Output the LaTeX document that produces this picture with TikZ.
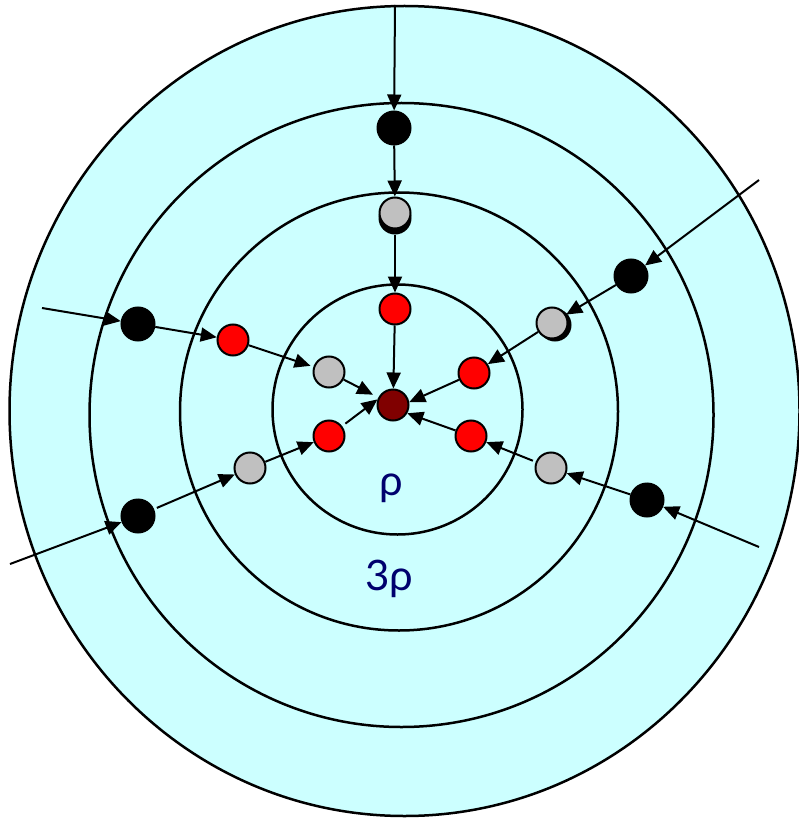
\documentclass[tikz,border=0pt]{standalone}
\usepackage{fontspec}
\setmainfont{Lato}
\usetikzlibrary{arrows.meta}
\definecolor{cyanbg}{RGB}{204,255,255}
\definecolor{grayball}{RGB}{192,192,192}
\definecolor{coreball}{RGB}{128,0,0}
\definecolor{navytext}{RGB}{0,0,110}
\tikzset{
  ball/.style={circle, draw=black, line width=2pt, minimum size=31pt, inner sep=0pt},
  blk/.style={ball, fill=black, minimum size=33pt},
  rd/.style={ball, fill=red},
  gr/.style={ball, fill=grayball},
  shd/.style={ball, fill=black, draw=black},
  core/.style={ball, fill=coreball},
  flow/.style={line width=2pt, -{Triangle[length=16pt,width=14pt]}},
  ringline/.style={line width=2.5pt},
  lab/.style={text=navytext, font=\fontsize{42}{46}\selectfont, anchor=base, inner sep=0pt}
}
\begin{document}
\begin{tikzpicture}[x=1pt,y=-1pt]
\useasboundingbox (0,0) rectangle (799,818);
% rings
\draw[ringline, fill=cyanbg] (404.5,411) ellipse [x radius=395, y radius=405];
\draw[ringline] (401.5,415) circle [radius=312];
\draw[ringline] (399,411.5) circle [radius=219];
\draw[ringline] (397.5,409.5) circle [radius=125];
% labels
\node[lab] (rho) at (391,495) {ρ};
\node[lab] (rho3) at (389,590) {3ρ};
% centre
\node[core] (c) at (393,405) {};
% top chain
\coordinate (ts) at (395,5);
\node[blk] (tb) at (394,128) {};
\node[shd] (tgs) at (395,218) {};
\node[gr] (tg) at (395,213) {};
\node[rd] (tr) at (395,309) {};
% upper left chain
\coordinate (uls) at (42,308);
\node[blk] (ulb) at (138,324) {};
\node[rd] (ulr) at (233,340) {};
\node[gr] (ulg) at (329,372) {};
% lower left chain
\coordinate (lls) at (10,564);
\node[blk] (llb) at (138,516) {};
\node[gr] (llg) at (250,468) {};
\node[rd] (llr) at (329,436) {};
% upper right chain
\coordinate (urs) at (759,180);
\node[blk] (urb) at (631,276) {};
\node[shd] (urgs) at (555,325) {};
\node[gr] (urg) at (552,323) {};
\node[rd] (urr) at (474,373) {};
% lower right chain
\coordinate (lrs) at (759,547);
\node[blk] (lrb) at (647,500) {};
\node[gr] (lrg) at (551,468) {};
\node[rd] (lrr) at (471,436) {};
% arrows
\draw[flow] (ts) -- (tb);
\draw[flow] (tb) -- (tg);
\draw[flow] (tgs) -- (tr);
\draw[flow] (tr) -- (c);
\draw[flow] (uls) -- (ulb);
\draw[flow] (ulb) -- (ulr);
\draw[flow, shorten >=3pt] (ulr) -- (ulg);
\draw[flow, shorten >=6pt] (ulg) -- (c);
\draw[flow] (lls) -- (llb);
\draw[flow, shorten <=3pt] (llb) -- (llg);
\draw[flow] (llg) -- (llr);
\draw[flow, shorten <=4pt] (llr) -- (c.160);
\draw[flow] (urs) -- (urb);
\draw[flow] (urb) -- (urg);
\draw[flow] (urg) -- (urr);
\draw[flow] (urr) -- (c.10);
\draw[flow] (lrs) -- (lrb);
\draw[flow] (lrb) -- (lrg);
\draw[flow, shorten <=3pt] (lrg) -- (lrr);
\draw[flow] (lrr) -- (c.-30);
\end{tikzpicture}
\end{document}
